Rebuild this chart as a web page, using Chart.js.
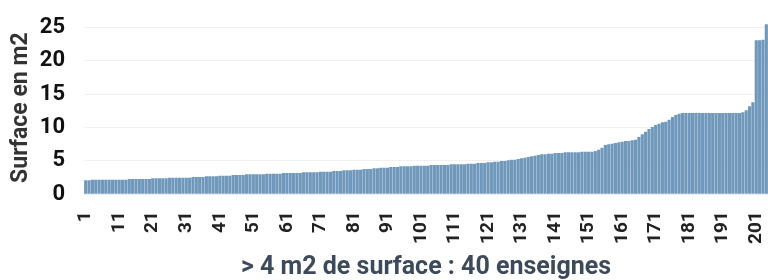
<!DOCTYPE html>
<html>
<head>
<meta charset="utf-8">
<script src="https://cdn.jsdelivr.net/npm/chart.js@4.4.1/dist/chart.umd.min.js"></script>
<style>
html,body{margin:0;padding:0;background:#fff;overflow:hidden;}
#wrap{width:768px;height:280px;position:relative;}
</style>
</head>
<body>
<div id="wrap"><canvas id="c" width="768" height="280"></canvas></div>
<script>
// Surface (m2) per enseigne, sorted ascending
const surfaces = [
  2.1,2.1,2.2,2.2,2.2,2.2,2.2,2.2,2.2,2.2,
  2.2,2.2,2.2,2.3,2.3,2.3,2.3,2.3,2.3,2.3,
  2.4,2.4,2.4,2.4,2.4,2.5,2.5,2.5,2.5,2.5,
  2.5,2.5,2.6,2.6,2.6,2.6,2.7,2.7,2.7,2.7,
  2.8,2.8,2.8,2.8,2.9,2.9,2.9,2.9,3.0,3.0,
  3.0,3.0,3.0,3.0,3.1,3.1,3.1,3.1,3.1,3.2,
  3.2,3.2,3.2,3.2,3.2,3.3,3.3,3.3,3.3,3.3,
  3.4,3.4,3.4,3.4,3.5,3.5,3.5,3.6,3.6,3.6,
  3.7,3.7,3.7,3.8,3.8,3.8,3.9,3.9,4.0,4.0,
  4.0,4.1,4.1,4.1,4.2,4.2,4.2,4.2,4.3,4.3,
  4.3,4.3,4.3,4.4,4.4,4.4,4.4,4.4,4.4,4.5,
  4.5,4.5,4.5,4.5,4.6,4.6,4.6,4.7,4.7,4.7,
  4.8,4.8,4.9,4.9,5.0,5.0,5.1,5.2,5.2,5.3,
  5.4,5.5,5.6,5.7,5.8,5.9,6.0,6.0,6.1,6.1,
  6.2,6.2,6.2,6.3,6.3,6.3,6.3,6.3,6.4,6.4,
  6.4,6.4,6.5,6.7,7.0,7.4,7.5,7.6,7.7,7.8,
  7.9,8.0,8.0,8.1,8.2,8.6,9.0,9.4,9.8,10.1,
  10.4,10.6,10.8,10.9,11.2,11.6,11.9,12.1,12.2,12.2,
  12.2,12.2,12.2,12.2,12.2,12.2,12.2,12.2,12.2,12.2,
  12.2,12.2,12.2,12.2,12.2,12.2,12.3,12.6,13.2,13.8,
  23.1,23.1,23.2,25.5
];
// Category labels: rank of each enseigne
const ranks = surfaces.map((v, i) => String(i + 1));
const yTicks = [0, 5, 10, 15, 20, 25];
const yTitle = 'Surface en m2';
const xTitle = '> 4 m2 de surface : 40 enseignes';

const FONT = "'Roboto','Liberation Sans',sans-serif";

new Chart(document.getElementById('c'), {
  type: 'bar',
  data: {
    labels: ranks,
    datasets: [{
      data: surfaces,
      backgroundColor: '#7098bb',
      borderWidth: 0,
      barPercentage: 1,
      categoryPercentage: 0.94
    }]
  },
  options: {
    responsive: false,
    animation: false,
    layout: { padding: { left: 7, right: 0, top: 21, bottom: 0 } },
    plugins: { legend: { display: false }, tooltip: { enabled: false } },
    scales: {
      x: {
        afterFit: function (s) { s.paddingLeft = 0; s.paddingRight = 0; },
        grid: {
          display: true,
          drawOnChartArea: false,
          drawTicks: true,
          tickLength: 12,
          color: 'rgba(0,0,0,0)',
          tickColor: 'rgba(0,0,0,0)'
        },
        border: { display: false },
        ticks: {
          autoSkip: false,
          maxRotation: 90,
          minRotation: 90,
          padding: 5,
          color: '#222',
          font: { family: FONT, size: 19, weight: 'bold' },
          callback: function (val, idx) { return idx % 10 === 0 ? ranks[idx] : ''; }
        },
        title: {
          display: true,
          text: xTitle,
          color: '#3d4a5c',
          padding: { top: 6, bottom: 0 },
          font: { family: FONT, size: 25, weight: 'bold', lineHeight: 1.0 }
        }
      },
      y: {
        min: 0,
        max: 26,
        afterBuildTicks: function (axis) { axis.ticks = yTicks.map(v => ({ value: v })); },
        afterFit: function (s) { s.paddingTop = 0; s.paddingBottom = 0; s.width = 77; },
        grid: { color: '#f1f1f1', drawTicks: false, lineWidth: 1 },
        border: { display: false },
        ticks: {
          autoSkip: false,
          padding: 19,
          color: '#111',
          font: { family: FONT, size: 22, weight: 'bold' }
        },
        title: {
          display: true,
          text: yTitle,
          color: '#333',
          padding: { top: 0, bottom: 6 },
          font: { family: FONT, size: 23, weight: 'bold' }
        }
      }
    }
  }
});
</script>
</body>
</html>
